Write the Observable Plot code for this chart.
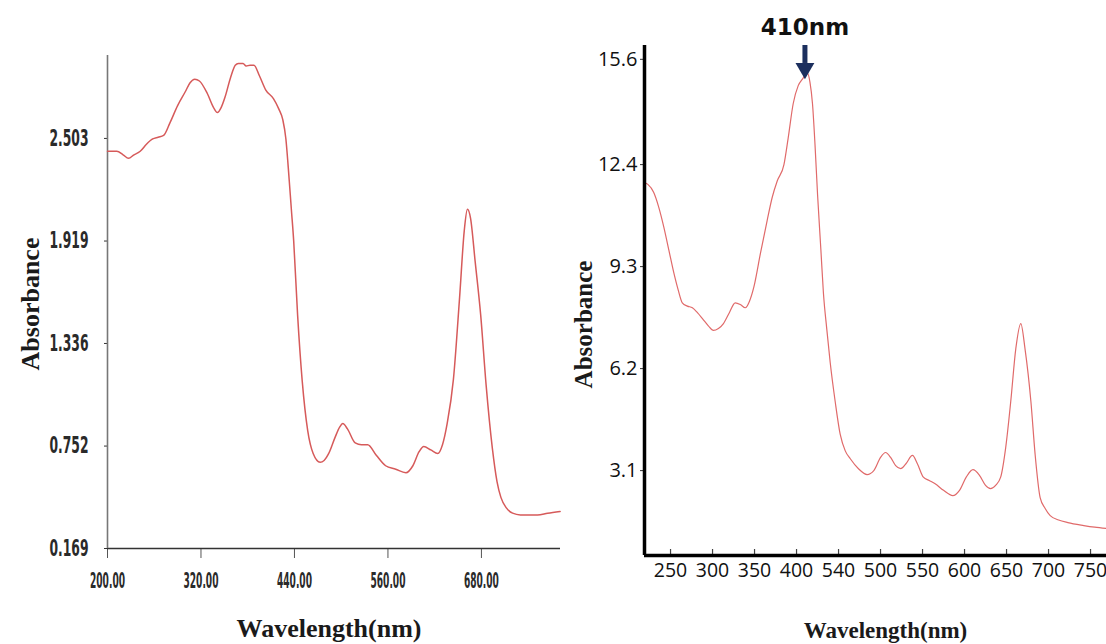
<!DOCTYPE html>
<html><head><meta charset="utf-8">
<script src="https://cdn.jsdelivr.net/npm/d3@7"></script>
<script src="https://cdn.jsdelivr.net/npm/@observablehq/plot@0.6"></script>
<style>
body{margin:0;background:#fff;}
#wrap{position:relative;width:1106px;height:644px;overflow:hidden;background:#fff;}
#left{position:absolute;left:0;top:0;width:570px;height:644px;}
#right{position:absolute;left:570px;top:0;width:536px;height:644px;}
svg{max-width:none !important;}
</style></head><body><div id="wrap"><div id="left"></div><div id="right"></div></div>
<script>
// ---- Left spectrum ----
const leftWavelength = [200,212,220,227,234,242,250,258,265,272,280,290,300,306,312,318,328,336,341,346,351,358,364,368,374,378,383,388,395,403,413,420,425,429,432,436,439,444,450,457,464,473,478,484,492,498,502,508,518,526,534,545,557,570,583,592,600,606,615,624,630,636,644,652,658,662,666,672,679,686,694,700,705,712,720,730,752,765,781];
const leftAbsorbance = [2.43,2.43,2.41,2.39,2.41,2.43,2.47,2.50,2.51,2.52,2.59,2.69,2.77,2.82,2.84,2.83,2.76,2.68,2.65,2.68,2.74,2.85,2.92,2.93,2.93,2.915,2.92,2.92,2.86,2.78,2.73,2.67,2.61,2.50,2.34,2.10,1.92,1.50,1.12,0.84,0.71,0.66,0.67,0.71,0.80,0.86,0.88,0.85,0.77,0.76,0.76,0.70,0.64,0.62,0.60,0.64,0.72,0.75,0.73,0.71,0.76,0.88,1.13,1.60,1.98,2.10,2.05,1.80,1.50,1.10,0.74,0.55,0.46,0.40,0.37,0.36,0.36,0.37,0.38];
const leftXTicks = [200,320,440,560,680];
const leftXTickLabels = ["200.00","320.00","440.00","560.00","680.00"];
const leftYTicks = [0.169,0.752,1.336,1.919,2.503];
const leftYTickLabels = ["0.169","0.752","1.336","1.919","2.503"];

// ---- Right spectrum ----
const rightWavelength = [219,223,230,236,242,248,254,259,264,270,276,282,288,295,301,307,313,320,327,333,339,344,349,357,365,371,377,385,390,396,402,407,413,416,419,422,425,429,432,436,440,446,452,458,464,474,484,492,500,506,512,518,524,530,538,544,551,558,565,575,586,594,602,610,618,625,631,637,643,649,655,661,667,672,679,684,690,696,702,712,723,742,755,769];
const rightAbsorbance = [11.85,11.8,11.55,11.1,10.5,9.8,9.1,8.6,8.2,8.1,8.05,7.9,7.72,7.5,7.36,7.42,7.57,7.9,8.2,8.15,8.05,8.25,8.66,9.7,10.7,11.4,11.9,12.4,13.2,14.25,14.8,15.0,15.17,14.9,14.25,13.0,11.5,9.8,8.5,7.4,6.4,5.2,4.2,3.7,3.46,3.15,2.98,3.1,3.5,3.65,3.5,3.25,3.16,3.3,3.56,3.3,2.9,2.8,2.7,2.5,2.34,2.5,2.9,3.13,2.95,2.65,2.55,2.65,2.9,3.8,5.2,6.8,7.57,6.8,5.2,3.6,2.28,1.95,1.73,1.6,1.52,1.43,1.38,1.34];
const rightXTicks = [250,300,350,400,450,500,550,600,650,700,750];
const rightXTickLabels = ["250","300","350","400","540","500","550","600","650","700","750"];
const rightYTicks = [3.1,6.2,9.3,12.4,15.6];
const rightYTickLabels = ["3.1","6.2","9.3","12.4","15.6"];

// ---- Annotation & titles ----
const peakWavelength = [410];
const peakLabels = ["410nm"];
const yTitle = ["Absorbance"];
const xTitle = ["Wavelength(nm)"];

const leftData = leftWavelength.map((x, i) => ({x, y: leftAbsorbance[i]}));
const rightData = rightWavelength.map((x, i) => ({x, y: rightAbsorbance[i]}));

const narrow = "'Liberation Sans Narrow', 'DejaVu Sans Condensed', 'Arial Narrow', sans-serif";
const serif = "'Liberation Serif', 'DejaVu Serif', serif";

const lx = [200, 781.5], ly = [0.169, 2.975];
const leftPlot = Plot.plot({
  width: 570, height: 644,
  marginLeft: 107, marginRight: 10, marginTop: 55, marginBottom: 96,
  style: {fontFamily: narrow, fontSize: "22px", color: "#333", background: "transparent"},
  x: {domain: lx},
  y: {domain: ly},
  marks: [
    Plot.axisX({ticks: leftXTicks, tickFormat: d => leftXTickLabels[leftXTicks.indexOf(d)], tickSize: 10, tickPadding: 15, label: null, stroke: "#555", fill: "#2a2a2a", fontSize: 21, fontWeight: "bold"}),
    Plot.axisY({ticks: leftYTicks, tickFormat: d => leftYTickLabels[leftYTicks.indexOf(d)], tickSize: 3, tickPadding: 16, label: null, stroke: "#333", fill: "#2a2a2a", fontSize: 23, fontWeight: "bold"}),
    Plot.ruleY([ly[0]], {stroke: "#333", strokeWidth: 1.6}),
    Plot.ruleX([lx[0]], {stroke: "#777", strokeWidth: 1.6}),
    Plot.line(leftData, {x: "x", y: "y", stroke: "#d65a5a", strokeWidth: 1.5, curve: "monotone-x"}),
    Plot.text(yTitle, {text: d => d, frameAnchor: "left", textAnchor: "middle", lineAnchor: "middle", dx: -77, dy: 2, rotate: -90, fontFamily: serif, fontWeight: "bold", fontSize: 26, fill: "#1a1a1a"}),
    Plot.text(xTitle, {text: d => d, frameAnchor: "bottom", textAnchor: "middle", lineAnchor: "middle", dx: -5, dy: 80, fontFamily: serif, fontWeight: "bold", fontSize: 26, fill: "#1a1a1a"})
  ]
});
document.getElementById("left").appendChild(leftPlot);

// condense the narrow tick labels of the left panel
function condense(svg, selector, targetWidth) {
  svg.querySelectorAll(selector).forEach(t => {
    const w = t.getComputedTextLength();
    if (w > targetWidth) {
      t.setAttribute("textLength", targetWidth);
      t.setAttribute("lengthAdjust", "spacingAndGlyphs");
    }
  });
}
condense(leftPlot, 'g[aria-label="x-axis tick label"] text', 35);
condense(leftPlot, 'g[aria-label="y-axis tick label"] text', 39);

const rx = [219, 769], ry = [0.52, 16.02];
const peakAbs = d3.max(rightAbsorbance);
const downTriangle = {
  draw(ctx, size) {
    const y = Math.sqrt(size / (Math.sqrt(3) * 3));
    ctx.moveTo(0, 2 * y);
    ctx.lineTo(-Math.sqrt(3) * y, -y);
    ctx.lineTo(Math.sqrt(3) * y, -y);
    ctx.closePath();
  }
};
const navy = "#1c2f5e";
const rightPlot = Plot.plot({
  width: 536, height: 644,
  marginLeft: 74, marginRight: 0, marginTop: 45, marginBottom: 89,
  style: {fontFamily: "'Open Sans', 'Noto Sans', sans-serif", fontSize: "20px", color: "#111", background: "transparent"},
  x: {domain: rx},
  y: {domain: ry},
  marks: [
    Plot.axisX({ticks: rightXTicks, tickFormat: d => rightXTickLabels[rightXTicks.indexOf(d)], tickSize: 0, tickPadding: 8, label: null, fill: "#111", fontSize: 19.5}),
    Plot.ruleX(rightXTicks, {y1: ry[0], y2: ry[0], insetTop: -6, stroke: "#444", strokeWidth: 1.2}),
    Plot.axisY({ticks: rightYTicks, tickFormat: d => rightYTickLabels[rightYTicks.indexOf(d)], tickSize: 4, tickPadding: 3, label: null, stroke: "#333", fill: "#111", fontSize: 20}),
    Plot.line(rightData, {x: "x", y: "y", stroke: "#e06a6a", strokeWidth: 1.2, curve: "monotone-x"}),
    Plot.ruleY([ry[0]], {stroke: "#000", strokeWidth: 3.5}),
    Plot.ruleX([rx[0]], {stroke: "#000", strokeWidth: 3.5}),
    Plot.ruleX(peakWavelength, {x: d => d, y1: ry[1], y2: peakAbs, insetBottom: 10, stroke: navy, strokeWidth: 5}),
    Plot.dot(peakWavelength, {x: d => d, y: peakAbs, symbol: downTriangle, r: 7, fill: navy, stroke: "none", dy: -5}),
    Plot.text(peakWavelength, {x: d => d, y: peakAbs, text: (d, i) => peakLabels[i], dy: -46, fontFamily: "'DejaVu Sans', sans-serif", fontWeight: "bold", fontSize: 23, fill: "#111"}),
    Plot.text(yTitle, {text: d => d, frameAnchor: "left", textAnchor: "middle", lineAnchor: "middle", dx: -61, dy: 24, rotate: -90, fontFamily: serif, fontWeight: "bold", fontSize: 25, fill: "#1a1a1a"}),
    Plot.text(xTitle, {text: d => d, frameAnchor: "bottom", textAnchor: "middle", lineAnchor: "middle", dx: 10, dy: 75, fontFamily: serif, fontWeight: "bold", fontSize: 23, fill: "#1a1a1a"})
  ]
});
document.getElementById("right").appendChild(rightPlot);
</script>
</body></html>
